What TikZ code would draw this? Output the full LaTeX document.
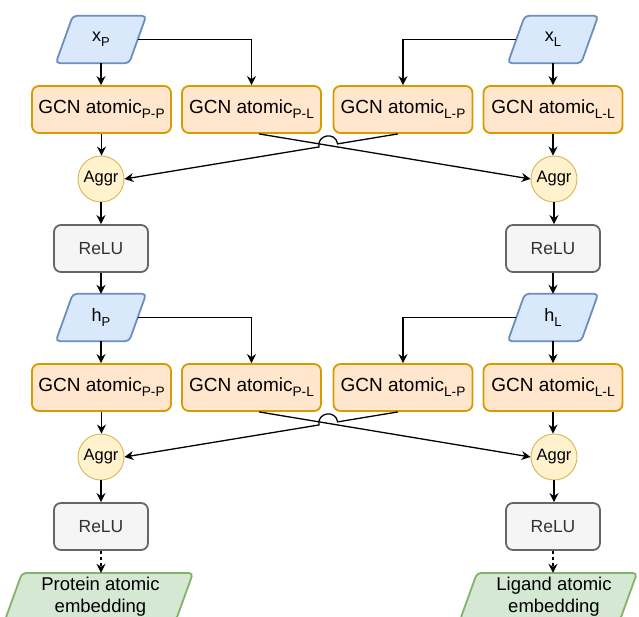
\documentclass[tikz,border=0pt]{standalone}
\usepackage{fontspec}
\usepackage{graphicx}
\setmainfont{Liberation Sans}
\usetikzlibrary{arrows.meta,calc}
\pgfdeclarelayer{background}
\pgfsetlayers{background,main}
\definecolor{bluefill}{HTML}{DAE8FC}
\definecolor{blueline}{HTML}{6C8EBF}
\definecolor{orangefill}{HTML}{FFE6CC}
\definecolor{orangeline}{HTML}{D79B00}
\definecolor{yellowfill}{HTML}{FFF2CC}
\definecolor{yellowline}{HTML}{D6B656}
\definecolor{grayfill}{HTML}{F5F5F5}
\definecolor{grayline}{HTML}{666666}
\definecolor{graytext}{HTML}{333333}
\definecolor{greenfill}{HTML}{D5E8D4}
\definecolor{greenline}{HTML}{82B366}
\newcommand\lowsub[1]{\raisebox{-0.27em}{\scalebox{0.72}{#1}}}
\tikzset{
  gcn/.style={draw=orangeline, fill=orangefill, line width=1.8pt, rounded corners=7pt,
    minimum width=139pt, minimum height=47pt, inner sep=0pt, font=\fontsize{19}{22}\selectfont},
  relubox/.style={draw=grayline, fill=grayfill, line width=1.8pt, rounded corners=7pt,
    minimum width=94pt, minimum height=47pt, inner sep=0pt, text=graytext, font=\fontsize{17.5}{21}\selectfont},
  aggr/.style={circle, draw=yellowline, fill=yellowfill, line width=0.9pt, minimum size=46pt,
    inner sep=0pt, font=\fontsize{16.5}{20}\selectfont},
  arr/.style={line width=1.3pt, -{Stealth[length=9pt,width=9pt,inset=3pt]}},
  bluepara/.style={draw=blueline, fill=bluefill, line width=1.8pt, rounded corners=4pt},
  greenpara/.style={draw=greenline, fill=greenfill, line width=1.8pt, rounded corners=4pt},
  paratext/.style={inner sep=0pt, minimum height=47pt, minimum width=73pt, font=\fontsize{18}{21}\selectfont},
}
\newcommand\paranode[3]{% name, position, text
  \node[paratext] (#1) at #2 {#3};
  \begin{pgfonlayer}{background}
    \draw[bluepara] ([xshift=-8.5pt]#1.south west) -- ([xshift=8.5pt]#1.north west)
      -- ([xshift=8.5pt]#1.north east) -- ([xshift=-8.5pt]#1.south east) -- cycle;
  \end{pgfonlayer}
}
\newcommand\gcnlayer[3]{% suffix, vertical offset, input letter
  \paranode{inP#1}{(101,39.5+#2)}{#3\lowsub{P}}
  \paranode{inL#1}{(553,39.5+#2)}{#3\lowsub{L}}
  \node[gcn] (g1#1) at (101.5,109.5+#2) {GCN atomic\lowsub{P-P}};
  \node[gcn] (g2#1) at (251.5,109.5+#2) {GCN atomic\lowsub{P-L}};
  \node[gcn] (g3#1) at (403,109.5+#2) {GCN atomic\lowsub{L-P}};
  \node[gcn] (g4#1) at (553,109.5+#2) {GCN atomic\lowsub{L-L}};
  \node[aggr] (aL#1) at (101,179+#2) {Aggr};
  \node[aggr] (aR#1) at (554,179+#2) {Aggr};
  \node[relubox] (rL#1) at (101,248.5+#2) {ReLU};
  \node[relubox] (rR#1) at (553,248.5+#2) {ReLU};
  \draw[arr] (inP#1.south) -- (inP#1.south |- g1#1.north);
  \draw[arr] (inL#1.south) -- (inL#1.south |- g4#1.north);
  \draw[arr] (inP#1.east) -| (g2#1.north);
  \draw[arr] (inL#1.west) -| (g3#1.north);
  \draw[arr] (g1#1.south) -- (g1#1.south |- aL#1.north);
  \draw[arr] (g4#1.south) -- (g4#1.south |- aR#1.north);
  \draw[arr] (aL#1.south) -- (aL#1.south |- rL#1.north);
  \draw[arr] (aR#1.south) -- (aR#1.south |- rR#1.north);
  \coordinate (ca#1) at ([xshift=7.5pt]g2#1.south);
  \coordinate (cb#1) at ([xshift=-5pt]g3#1.south);
  \coordinate (ar#1) at (aR#1.west);
  \coordinate (al#1) at (aL#1.east);
  \coordinate (cx#1) at (intersection of ca#1--ar#1 and cb#1--al#1);
  \coordinate (ja#1) at ($(cx#1)!9.5pt!(cb#1)$);
  \coordinate (jb#1) at ($(cx#1)!9.5pt!(al#1)$);
  \coordinate (ka#1) at ($(ja#1)!12.7pt!-90:(cx#1)$);
  \coordinate (kb#1) at ($(jb#1)!12.7pt!90:(cx#1)$);
  \draw[arr] (ca#1) -- (ar#1);
  \draw[arr] (cb#1) -- (ja#1) .. controls (ka#1) and (kb#1) .. (jb#1) -- (al#1);
}
\begin{document}
\begin{tikzpicture}[x=1pt,y=-1pt]
\useasboundingbox (0,0) rectangle (639,617);
\begin{pgfonlayer}{background}
\fill[white] (0,0) rectangle (639,617);
\end{pgfonlayer}

\gcnlayer{a}{0}{x}
\gcnlayer{b}{278}{h}

\draw[arr] (rLa.south) -- (rLa.south |- inPb.north);
\draw[arr] (rRa.south) -- (rRa.south |- inLb.north);

% output parallelograms
\begin{pgfonlayer}{background}
  \draw[greenpara] (5,620) -- (22,573) -- (193,573) -- (176,620) -- cycle;
  \draw[greenpara] (460,620) -- (477,573) -- (637,573) -- (620,620) -- cycle;
\end{pgfonlayer}
\node[paratext, align=center, font=\fontsize{18.5}{22}\selectfont] (outP) at (100.5,596.5) {Protein atomic\\embedding};
\node[paratext, align=center, font=\fontsize{18.5}{22}\selectfont] (outL) at (554,596.5) {Ligand atomic\\embedding};
\draw[arr, dash pattern=on 3pt off 3pt] (rLb.south) -- (rLb.south |- outP.north);
\draw[arr, dash pattern=on 3pt off 3pt] (rRb.south) -- (rRb.south |- outL.north);
\end{tikzpicture}
\end{document}
